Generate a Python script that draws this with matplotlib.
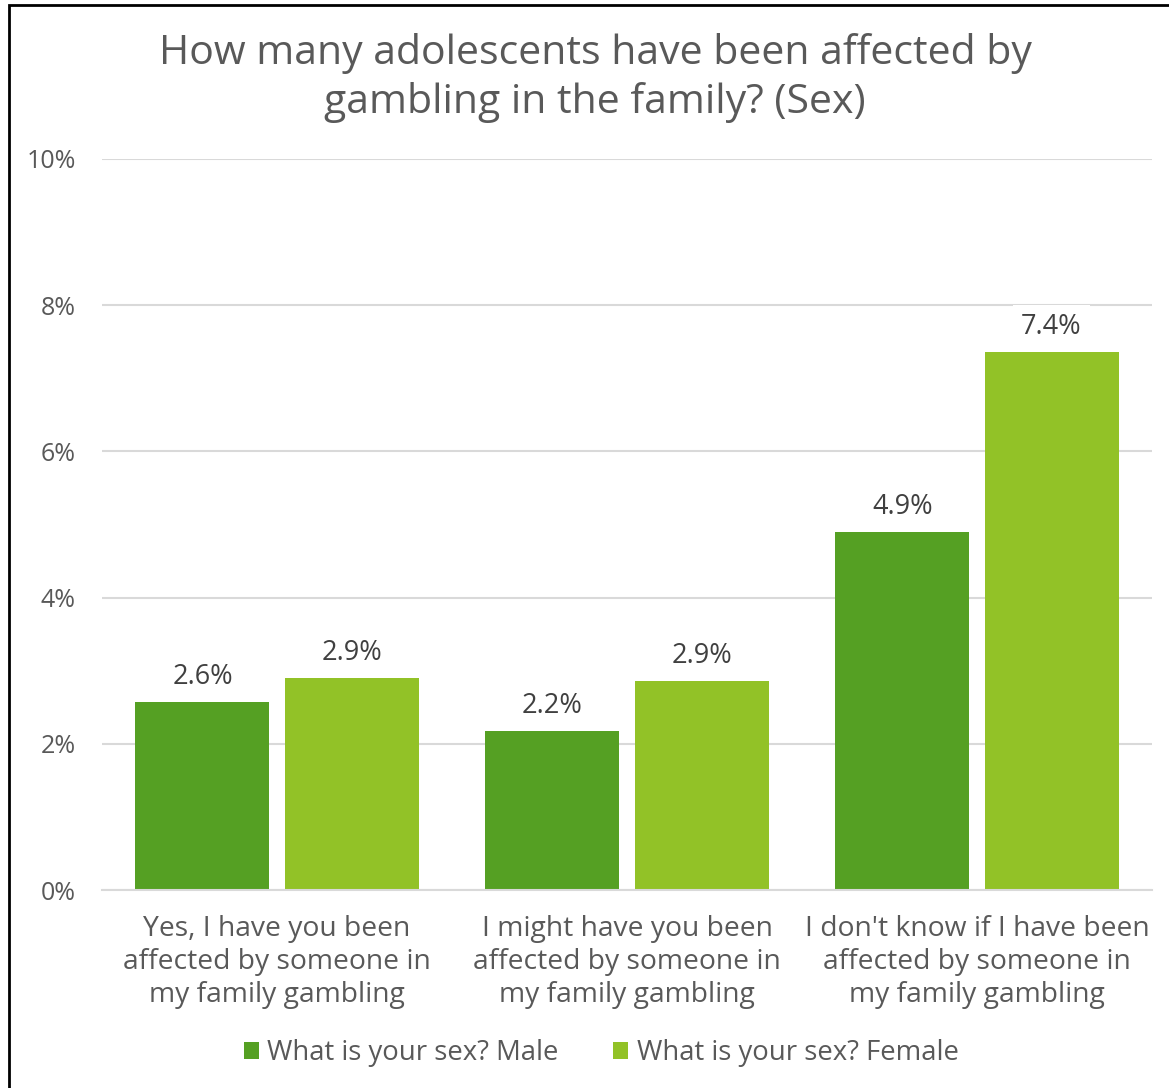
import matplotlib
matplotlib.use("Agg")
import matplotlib.pyplot as plt
import numpy as np
from matplotlib.patches import Rectangle

categories = ["Yes, I have you been\naffected by someone in\nmy family gambling",
              "I might have you been\naffected by someone in\nmy family gambling",
              "I don't know if I have been\naffected by someone in\nmy family gambling"]
male = [2.57, 2.18, 4.90]
female = [2.90, 2.86, 7.36]
series_names = ["What is your sex? Male", "What is your sex? Female"]
yticks = [0, 2, 4, 6, 8, 10]
title = "How many adolescents have been affected by\ngambling in the family? (Sex)"

c_male = "#55A023"
c_female = "#92C227"
txt = "#595959"
grid_c = "#D9D9D9"

plt.rcParams['font.family'] = ['Open Sans', 'DejaVu Sans']

fig = plt.figure(figsize=(11.69, 10.88), dpi=100)
ax = fig.add_axes([102/1169, 1-890/1088, 1050/1169, 731/1088])

x = np.arange(len(categories))
w = 0.383
off = 0.213
b1 = ax.bar(x - off, male, w, color=c_male, label=series_names[0], zorder=2)
b2 = ax.bar(x + off, female, w, color=c_female, label=series_names[1], zorder=2)

for bars, vals in ((b1, male), (b2, female)):
    for b, v in zip(bars, vals):
        ax.annotate(f"{v:.1f}%", (b.get_x() + b.get_width()/2, v),
                    xytext=(0, 18), textcoords="offset points",
                    ha="center", va="center", fontsize=19.5, color="#404040",
                    bbox=dict(boxstyle="square,pad=0.3", fc="white", ec="none"),
                    zorder=3)

ax.set_xlim(-0.5, 2.5)
ax.set_ylim(0, 10)
ax.set_yticks(yticks)
ax.set_yticklabels([f"{t}%" for t in yticks], fontsize=18, color=txt)
ax.set_xticks(x)
ax.set_xticklabels(categories, fontsize=20.3, color=txt, linespacing=1.24)
ax.tick_params(axis="both", length=0)
ax.tick_params(axis="y", pad=19)
ax.tick_params(axis="x", pad=18)
ax.yaxis.grid(True, color=grid_c, linewidth=1.5, zorder=0)
ax.set_axisbelow(True)
for s in ("top", "right", "left"):
    ax.spines[s].set_visible(False)
ax.spines["bottom"].set_color(grid_c)
ax.spines["bottom"].set_linewidth(1.5)

fig.text(595/1169, 1-78/1088, title, ha="center", va="center",
         fontsize=29.5, color=txt, linespacing=1.28)

fig.legend(handles=[b1, b2], loc="center", bbox_to_anchor=(601/1169, 1-1053/1088),
           ncol=2, frameon=False, fontsize=19.8, labelcolor=txt,
           handlelength=0.55, handleheight=0.55, handletextpad=0.3, columnspacing=2.0)

fig.patches.append(Rectangle((9/1169, -0.01), 1.1, 1-5/1088+0.01,
                             transform=fig.transFigure, fill=False,
                             edgecolor="black", linewidth=2))

fig.savefig("out.png", dpi=100)
